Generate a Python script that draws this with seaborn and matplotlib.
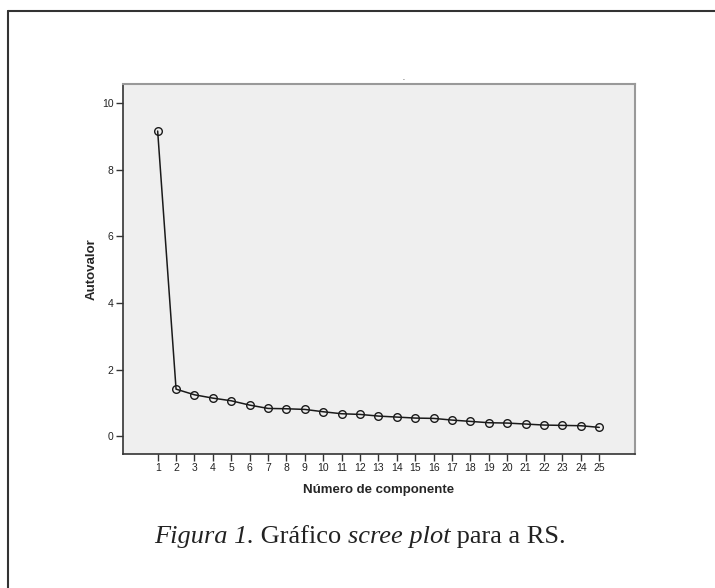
import matplotlib
matplotlib.use("Agg")
import matplotlib.pyplot as plt
import seaborn as sns
import pandas as pd
from matplotlib.lines import Line2D

# scree plot values
componentes = list(range(1, 26))
autovalores = [9.17, 1.41, 1.24, 1.14, 1.06, 0.93, 0.83, 0.82, 0.80, 0.73,
               0.67, 0.65, 0.60, 0.57, 0.54, 0.53, 0.48, 0.44, 0.40, 0.39,
               0.36, 0.33, 0.32, 0.31, 0.26]
y_ticks = [0, 2, 4, 6, 8, 10]

df = pd.DataFrame({"componente": componentes, "autovalor": autovalores})

sns.set_style("white")
plt.rcParams["font.family"] = ["Liberation Sans", "DejaVu Sans"]

fig = plt.figure(figsize=(7.15, 5.88), dpi=100)
ax = fig.add_axes([0.1716, 0.2279, 0.7165, 0.629])
ax.set_facecolor("#efefef")

sns.lineplot(data=df, x="componente", y="autovalor", ax=ax, color="#1a1a1a",
             linewidth=1.1, marker="o", markersize=5.5, markerfacecolor="none",
             markeredgecolor="#1a1a1a", markeredgewidth=1.0)

ax.set_xlim(-0.9, 26.94)
ax.set_ylim(-0.54, 10.58)
ax.set_xticks(componentes)
ax.set_yticks(y_ticks)
ax.tick_params(axis="both", direction="out", length=5, width=1, color="#333333",
               labelsize=7.5, labelcolor="#222222", pad=1.5)
ax.tick_params(axis="x", bottom=True)
ax.tick_params(axis="y", left=True)

ax.set_xlabel("Número de componente", fontsize=9.5, fontweight="bold", labelpad=8)
ax.set_ylabel("Autovalor", fontsize=9.5, fontweight="bold", labelpad=3)

for side in ["left", "bottom"]:
    ax.spines[side].set_color("#333333")
    ax.spines[side].set_linewidth(1.2)
for side in ["top", "right"]:
    ax.spines[side].set_color("#999999")
    ax.spines[side].set_linewidth(1.5)

# stray title mark
fig.text(404 / 715, 1 - 80 / 588, "-", fontsize=4, ha="center", va="center")

# outer frame (top and left lines)
fig.add_artist(Line2D([8 / 715, 1.0], [1 - 11 / 588, 1 - 11 / 588],
                      transform=fig.transFigure, color="#333333", linewidth=1.5))
fig.add_artist(Line2D([8 / 715, 8 / 715], [0.0, 1 - 11 / 588],
                      transform=fig.transFigure, color="#333333", linewidth=1.5))

# caption with mixed italic / roman pieces
pieces = [("Figura 1.", "italic"), (" Gráfico ", "normal"),
          ("scree plot", "italic"), (" para a RS.", "normal")]
cap_size = 19
renderer = fig.canvas.get_renderer()
texts = []
x = 0
for s, st in pieces:
    t = fig.text(x, 1 - 543 / 588, s, fontsize=cap_size, fontstyle=st,
                 family="Liberation Serif", color="#222222", va="baseline")
    bb = t.get_window_extent(renderer)
    texts.append(t)
    x += bb.width / fig.bbox.width
total = x
start = (360 / 715) - total / 2
x = start
for t in texts:
    t.set_x(x)
    x += t.get_window_extent(renderer).width / fig.bbox.width

fig.savefig("out.png", dpi=100)
